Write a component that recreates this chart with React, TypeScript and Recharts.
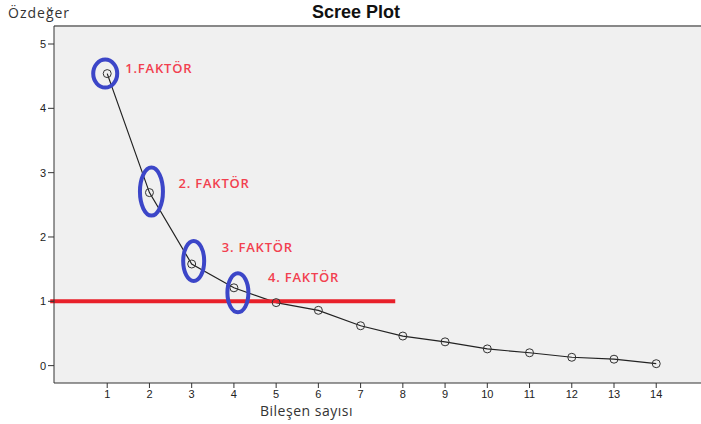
import React from "react";
import {
  ComposedChart, Line, Scatter, XAxis, YAxis, CartesianGrid, ReferenceLine,
} from "recharts";

// Scree plot values
const COMPONENTS = [1, 2, 3, 4, 5, 6, 7, 8, 9, 10, 11, 12, 13, 14];
const EIGENVALUES = [4.54, 2.69, 1.58, 1.21, 0.98, 0.86, 0.62, 0.46, 0.37, 0.26, 0.2, 0.13, 0.1, 0.03];
const X_TICKS = [1, 2, 3, 4, 5, 6, 7, 8, 9, 10, 11, 12, 13, 14];
const Y_TICKS = [0, 1, 2, 3, 4, 5];
const FACTOR_LABELS = ["1.FAKTÖR", "2. FAKTÖR", "3. FAKTÖR", "4. FAKTÖR"];
const KAISER_LEVEL = 1;
const KAISER_FROM = -0.35;
const KAISER_TO = 7.82;

// drawing tweaks for the hand-drawn annotations (pixels)
const MARKS = [
  { ex: -2, ey: 0, rx: 12, ry: 14, lx: 18, ly: -6 },
  { ex: 2, ey: -1, rx: 11.5, ry: 24, lx: 29, ly: -10 },
  { ex: 2, ey: -3, rx: 10.5, ry: 20, lx: 30, ly: -17 },
  { ex: 4, ey: 5, rx: 10.5, ry: 19.5, lx: 34, ly: -11 },
];

const data = COMPONENTS.map((c, i) => ({ x: c, y: EIGENVALUES[i] }));
const factors = FACTOR_LABELS.map((label, i) => ({ x: COMPONENTS[i], y: EIGENVALUES[i], label, idx: i }));

const TICK_FONT = { fontSize: 11, fill: "#222", fontFamily: "Liberation Sans, Arial, sans-serif" };

const FactorMark = (props: any) => {
  const { cx, cy, payload } = props;
  const m = MARKS[payload.idx];
  return (
    <g>
      <ellipse cx={cx + m.ex} cy={cy + m.ey} rx={m.rx} ry={m.ry} fill="none" stroke="#3c46c8" strokeWidth={4} />
      <text
        x={cx + m.lx}
        y={cy + m.ly}
        dominantBaseline="central"
        fill="#f2404f"
        fontSize={13}
        fontWeight={600}
        letterSpacing={0.8}
        fontFamily="Open Sans, sans-serif"
      >
        {payload.label}
      </text>
    </g>
  );
};

const OpenDot = (props: any) => {
  const { cx, cy } = props;
  return <circle cx={cx} cy={cy} r={4} fill="none" stroke="#333" strokeWidth={1} />;
};

export default function App() {
  return (
    <div style={{ position: "absolute", left: 0, top: 0, width: 701, height: 424, background: "#fff" }}>
      <div style={{ position: "absolute", left: 8, top: 3, fontSize: 14, letterSpacing: 1, color: "#333", fontFamily: "Open Sans, sans-serif" }}>
        Özdeğer
      </div>
      <div style={{ position: "absolute", left: 0, width: 712, top: 2, textAlign: "center", fontSize: 18, fontWeight: 700, color: "#111", fontFamily: "Liberation Sans, Arial, sans-serif" }}>
        Scree Plot
      </div>
      <div style={{ position: "absolute", left: 260, top: 401, fontSize: 14, letterSpacing: 0.5, color: "#333", fontFamily: "Open Sans, sans-serif" }}>
        Bileşen sayısı
      </div>
      <div style={{ position: "absolute", left: 0, top: 0 }}>
        <ComposedChart width={701} height={424} data={data} margin={{ top: 26, right: 0, left: 24, bottom: 11 }}>
          <CartesianGrid fill="#f0f0f0" horizontal={false} vertical={false} />
          <XAxis
            type="number"
            dataKey="x"
            domain={[-0.26, 15.06]}
            ticks={X_TICKS}
            allowDataOverflow
            height={30}
            tick={TICK_FONT}
            tickSize={5}
            stroke="#333"
            interval={0}
          />
          <YAxis
            type="number"
            dataKey="y"
            domain={[-0.27, 5.28]}
            ticks={Y_TICKS}
            allowDataOverflow
            width={30}
            tick={TICK_FONT}
            tickSize={6}
            stroke="#333"
            interval={0}
          />
          <ReferenceLine y={5.28} stroke="#888" strokeWidth={2} />
          <Line
            dataKey="y"
            stroke="#222"
            strokeWidth={1.2}
            dot={<OpenDot />}
            activeDot={false}
            isAnimationActive={false}
          />
          <ReferenceLine
            segment={[{ x: KAISER_FROM, y: KAISER_LEVEL }, { x: KAISER_TO, y: KAISER_LEVEL }]}
            stroke="#e8202a"
            strokeWidth={4}
            ifOverflow="visible"
          />
          <Scatter data={factors} dataKey="y" shape={<FactorMark />} isAnimationActive={false} />
        </ComposedChart>
      </div>
    </div>
  );
}
